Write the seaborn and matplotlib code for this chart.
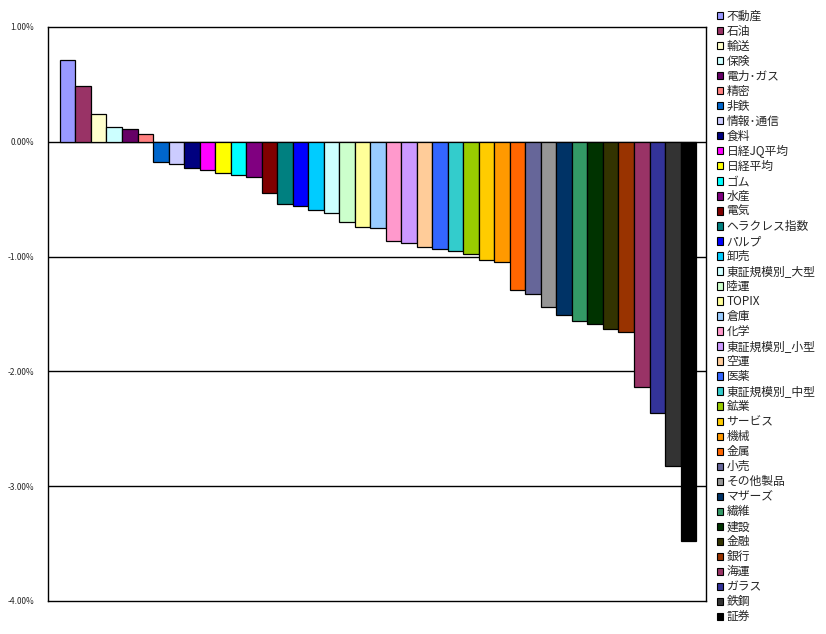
import matplotlib
matplotlib.use("Agg")
import matplotlib.pyplot as plt
from matplotlib.patches import Patch
from matplotlib.ticker import FuncFormatter
import seaborn as sns

# sector names (legend order = bar order)
sectors = ["不動産", "石油", "輸送", "保険", "電力･ガス", "精密", "非鉄", "情報･通信",
           "食料", "日経JQ平均", "日経平均", "ゴム", "水産", "電気", "ヘラクレス指数",
           "パルプ", "卸売", "東証規模別_大型", "陸運", "TOPIX", "倉庫", "化学",
           "東証規模別_小型", "空運", "医薬", "東証規模別_中型", "鉱業", "サービス",
           "機械", "金属", "小売", "その他製品", "マザーズ", "繊維", "建設", "金融",
           "銀行", "海運", "ガラス", "鉄鋼", "証券"]

# change in percent
changes = [0.71, 0.49, 0.24, 0.13, 0.11, 0.07, -0.18, -0.19, -0.23, -0.25, -0.27,
           -0.29, -0.31, -0.45, -0.54, -0.56, -0.59, -0.62, -0.70, -0.74, -0.75,
           -0.86, -0.88, -0.92, -0.93, -0.95, -0.98, -1.03, -1.05, -1.29, -1.33,
           -1.44, -1.51, -1.56, -1.59, -1.63, -1.66, -2.14, -2.36, -2.82, -3.48]

colors = ["#9999FF", "#993366", "#FFFFCC", "#CCFFFF", "#660066", "#FF8080", "#0066CC",
          "#CCCCFF", "#000080", "#FF00FF", "#FFFF00", "#00FFFF", "#800080", "#800000",
          "#008080", "#0000FF", "#00CCFF", "#CCFFFF", "#CCFFCC", "#FFFF99", "#99CCFF",
          "#FF99CC", "#CC99FF", "#FFCC99", "#3366FF", "#33CCCC", "#99CC00", "#FFCC00",
          "#FF9900", "#FF6600", "#666699", "#969696", "#003366", "#339966", "#003300",
          "#333300", "#993300", "#993366", "#333399", "#333333", "#000000"]

yticks = [1, 0, -1, -2, -3, -4]

sns.set_style("white")
plt.rcParams["font.family"] = ["Noto Sans CJK JP", "DejaVu Sans"]

fig = plt.figure(figsize=(8.26, 6.34), dpi=100)
ax = fig.add_axes([48 / 826, 1 - 601 / 634, 658 / 826, 574 / 634])

sns.barplot(x=sectors, y=changes, hue=sectors, palette=colors, order=sectors,
            hue_order=sectors, dodge=False, width=1.0, edgecolor="black",
            linewidth=0.9, legend=False, ax=ax, saturation=1)

ax.set_ylim(-4, 1)
ax.set_xlim(-1.27, len(sectors) - 0.5 + 0.64)
ax.set_yticks(yticks)
ax.yaxis.set_major_formatter(FuncFormatter(lambda v, p: f"{v:.2f}%"))
ax.tick_params(axis="y", labelsize=6, length=0, pad=10)
ax.set_xticks([])
ax.set_xlabel("")
ax.set_ylabel("")
for v in yticks[1:-1]:
    ax.axhline(v, color="black", linewidth=1, zorder=0)
for s in ax.spines.values():
    s.set_visible(True)
    s.set_color("black")
    s.set_linewidth(1)

handles = [Patch(facecolor=c, edgecolor="black", linewidth=0.8) for c in colors]
fig.legend(handles, sectors, loc="upper left", bbox_to_anchor=(717 / 826, 1 - 10 / 634),
           frameon=False, fontsize=8.5, handlelength=0.55, handleheight=0.55,
           handletextpad=0.25, labelspacing=0.17, borderpad=0, borderaxespad=0)

fig.savefig("out.png", dpi=100)
